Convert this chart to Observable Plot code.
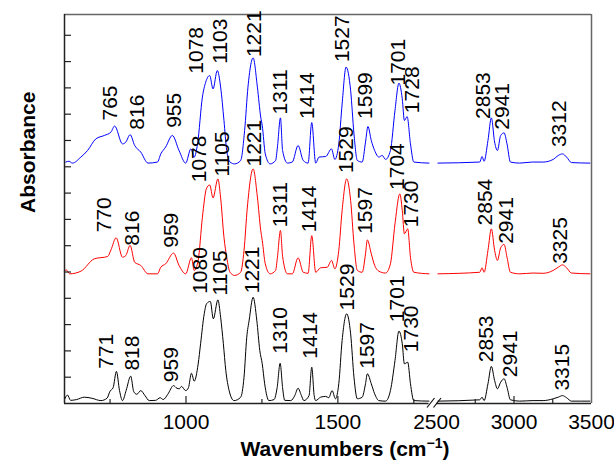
<!DOCTYPE html>
<html>
<head>
<meta charset="utf-8">
<script src="https://cdn.jsdelivr.net/npm/d3@7"></script>
<script src="https://cdn.jsdelivr.net/npm/@observablehq/plot@0.6"></script>
<style>
  html, body { margin: 0; padding: 0; background: #fff; }
  #chart { width: 614px; height: 463px; }
</style>
</head>
<body>
<div id="chart"></div>
<script>
// ---- Data (wavenumber, stacked absorbance) ----
const blackLeft = [[600,0.15],[610,0.32],[620,0.12],[640,0.15],[665,0.24],[690,0.2],[720,0.11],[740,0.2],[750,0.47],[760,0.6],[771,1.22],[781,0.5],[791,0.11],[803,0.5],[818,1.04],[828,0.45],[838,0.35],[851,0.49],[865,0.3],[879,0.11],[900,0.12],[915,0.22],[925,0.15],[940,0.35],[959,0.68],[970,0.58],[978,0.56],[985,0.65],[999,0.49],[1008,0.6],[1018,1.15],[1027,0.85],[1040,1.5],[1048,2.27],[1060,3.41],[1068,3.8],[1080,3.88],[1090,3.22],[1105,3.94],[1114,3.28],[1123,2.27],[1131,1.26],[1142,0.49],[1158,0.11],[1180,0.24],[1191,1.0],[1200,2.52],[1208,3.17],[1221,4.04],[1233,3.17],[1243,2.01],[1251,1.51],[1259,0.75],[1273,0.11],[1290,0.15],[1300,0.6],[1310,1.53],[1318,0.6],[1325,0.12],[1345,0.11],[1358,0.3],[1369,0.58],[1380,0.3],[1388,0.11],[1405,0.3],[1414,1.38],[1422,0.3],[1427,0.11],[1443,0.24],[1460,0.27],[1470,0.22],[1481,0.49],[1492,0.18],[1503,0.75],[1514,2.4],[1529,3.41],[1542,2.65],[1553,1.0],[1564,0.18],[1580,0.24],[1591,0.75],[1597,1.13],[1610,0.75],[1621,0.37],[1635,0.11],[1657,0.09],[1673,0.49],[1688,1.63],[1701,2.75],[1712,2.27],[1719,1.51],[1730,1.57],[1739,0.75],[1750,0.11],[1800,0.09]];
const blackRight = [[2509,0.09],[2779,0.14],[2794,0.24],[2807,0.11],[2832,0.75],[2854,1.41],[2875,0.87],[2893,0.56],[2914,0.81],[2936,0.94],[2955,0.62],[2977,0.14],[3037,0.09],[3123,0.11],[3188,0.11],[3253,0.18],[3285,0.24],[3313,0.3],[3339,0.22],[3371,0.09],[3490,0.09]];

const redLeft = [[600,5.03],[606,5.08],[617,4.93],[654,5.03],[698,5.5],[742,5.59],[753,5.84],[770,6.3],[791,5.56],[802,5.63],[816,6.01],[831,5.37],[851,5.25],[875,4.93],[906,4.93],[917,5.18],[933,5.31],[959,5.72],[977,5.25],[999,4.93],[1018,5.54],[1027,5.06],[1040,5.44],[1054,7.08],[1067,8.16],[1078,8.31],[1089,7.82],[1105,8.54],[1114,7.82],[1125,6.32],[1134,5.56],[1145,4.99],[1160,4.87],[1180,4.99],[1191,5.82],[1202,7.47],[1221,8.92],[1235,7.85],[1246,6.58],[1251,6.2],[1261,5.31],[1277,4.93],[1295,5.06],[1301,5.56],[1311,6.58],[1318,5.6],[1334,4.93],[1350,4.93],[1369,5.54],[1386,4.99],[1402,4.95],[1414,6.38],[1427,4.99],[1443,5.16],[1465,5.18],[1479,5.44],[1490,5.12],[1503,5.82],[1514,7.34],[1529,8.54],[1542,7.72],[1553,6.07],[1564,5.06],[1580,4.99],[1591,5.69],[1597,6.22],[1610,5.69],[1621,5.25],[1635,5.03],[1657,4.96],[1673,5.31],[1688,6.83],[1704,7.97],[1712,7.34],[1719,6.45],[1730,6.64],[1739,5.56],[1750,4.99],[1800,4.93]];
const redRight = [[2509,4.93],[2779,4.99],[2794,5.16],[2807,4.99],[2832,5.82],[2854,6.64],[2875,5.82],[2893,5.44],[2914,5.92],[2936,6.05],[2955,5.56],[2977,4.99],[3037,4.93],[3123,4.96],[3188,4.95],[3253,5.06],[3285,5.18],[3313,5.27],[3339,5.16],[3371,4.96],[3490,4.93]];

const blueLeft = [[604,9.18],[615,9.21],[626,9.14],[654,9.37],[676,9.62],[703,10.06],[731,10.19],[753,10.32],[765,10.55],[791,9.87],[802,9.94],[816,10.22],[831,9.81],[851,9.56],[875,9.14],[906,9.18],[917,9.49],[933,9.75],[955,10.19],[977,9.62],[999,9.14],[1016,9.68],[1027,9.37],[1038,9.87],[1054,11.65],[1065,12.22],[1078,12.47],[1089,11.96],[1103,12.66],[1114,12.03],[1125,10.76],[1134,9.62],[1145,9.18],[1160,9.11],[1180,9.24],[1193,10.38],[1204,12.03],[1221,13.14],[1235,12.03],[1246,10.89],[1251,10.57],[1261,9.49],[1277,9.11],[1295,9.24],[1301,9.75],[1311,10.86],[1318,9.62],[1334,9.14],[1350,9.18],[1369,9.81],[1386,9.24],[1402,9.14],[1414,10.68],[1427,9.14],[1438,9.37],[1460,9.39],[1479,9.68],[1490,9.28],[1503,9.87],[1514,11.39],[1527,12.79],[1542,11.9],[1553,10.25],[1564,9.24],[1580,9.18],[1591,9.94],[1599,10.53],[1610,10.0],[1621,9.62],[1635,9.37],[1646,9.43],[1657,9.28],[1673,9.62],[1688,11.14],[1701,12.18],[1712,11.58],[1719,10.76],[1728,10.91],[1739,9.87],[1750,9.18],[1800,9.14]];
const blueRight = [[2509,9.14],[2779,9.18],[2794,9.39],[2807,9.21],[2832,10.0],[2854,10.86],[2875,9.94],[2893,9.62],[2914,10.19],[2936,10.29],[2955,9.87],[2977,9.18],[3037,9.14],[3118,9.18],[3188,9.18],[3253,9.28],[3285,9.43],[3313,9.49],[3339,9.37],[3371,9.16],[3490,9.14]];

// Peak labels: [text, wavenumber at label, absorbance at label foot]
const blueLabels = [["765",750,10.76],["816",838,10.41],["955",961,10.48],["1078",1034,12.54],["1103",1112,12.92],["1221",1224,13.17],["1311",1309,10.99],["1414",1399,10.82],["1527",1514,12.98],["1599",1589,10.82],["1701",1699,12.09],["1728",1745,11.04],["2853",2802,10.82],["2941",2925,10.41],["3312",3291,9.75]];
const redLabels = [["770",730,6.51],["816",824,6.0],["959",950,5.92],["1078",1043,8.41],["1105",1120,8.63],["1221",1224,9.01],["1311",1311,6.70],["1414",1405,6.51],["1529",1529,8.76],["1597",1589,6.45],["1704",1697,8.12],["1730",1743,6.70],["2854",2817,6.77],["2941",2953,6.07],["3325",3297,5.31]];
const blackLabels = [["771",736,1.32],["818",824,1.25],["959",952,0.81],["1080",1048,4.17],["1105",1114,4.11],["1221",1218,4.19],["1310",1309,1.89],["1414",1410,1.70],["1529",1531,3.54],["1597",1597,1.32],["1701",1697,3.09],["1730",1743,1.95],["2853",2823,1.57],["2941",2979,1.0],["3315",3314,0.49]];

// Axis definitions
const xBreakDomain = [600, 1800, 2500, 3500];
const yMax = 14.79;
const xLabelTicks = [1000, 1500, 2500, 3000, 3500];
const xMajorTicks = [1000, 1500, 3000];
const xMinorTicks = [750, 1250, 1750, 2750, 3250];
const yTicks = d3.range(1, 15);

// ---- Build ----
const series = [
  {name: "blue", color: "#0000ff", parts: [blueLeft, blueRight]},
  {name: "red", color: "#ff0000", parts: [redLeft, redRight]},
  {name: "black", color: "#000000", parts: [blackLeft, blackRight]}
];
const lineMarks = [];
for (const s of series) {
  s.parts.forEach(part => {
    lineMarks.push(Plot.line(part, {x: d => d[0], y: d => d[1], stroke: s.color, strokeWidth: 1, curve: "monotone-x"}));
  });
}
const labelRows = [...blueLabels, ...redLabels, ...blackLabels].map(([t, x, y]) => ({t, x, y}));

const W = 614, H = 463, mL = 64, mR = 23, mT = 14, mB = 60;
const xRange = [mL, 428.5, 436, W - mR];

const breakMark = (index, scales) => {
  const x0 = scales.x(1800), x1 = scales.x(2500), y0 = scales.y(0);
  const g = d3.create("svg:g").attr("stroke", "#111").attr("stroke-width", 1.2).attr("fill", "none");
  g.append("line").attr("x1", x0 - 1.5).attr("y1", y0 + 4.5).attr("x2", x0 + 6).attr("y2", y0 - 5);
  g.append("line").attr("x1", x1 - 2.5).attr("y1", y0 + 4.5).attr("x2", x1 + 5).attr("y2", y0 - 5);
  return g.node();
};

const chart = Plot.plot({
  width: W, height: H,
  marginLeft: mL, marginRight: mR, marginTop: mT, marginBottom: mB,
  style: {fontFamily: "Arial, 'Liberation Sans', sans-serif", background: "#fff", color: "#000", overflow: "visible"},
  x: {type: "linear", domain: xBreakDomain, range: xRange},
  y: {domain: [0, yMax]},
  marks: [
    ...lineMarks,
    // frame
    Plot.ruleY([yMax], {stroke: "#666", strokeWidth: 1.5}),
    Plot.ruleX([3500], {stroke: "#666", strokeWidth: 1.5}),
    Plot.ruleX([600], {stroke: "#222", strokeWidth: 1.5}),
    Plot.ruleY([0], {x1: 600, x2: 1800, stroke: "#222", strokeWidth: 1.5}),
    Plot.ruleY([0], {x1: 2500, x2: 3500, stroke: "#222", strokeWidth: 1.5}),
    breakMark,
    // ticks (inward)
    Plot.axisY(yTicks, {anchor: "left", tickSize: -7, tickFormat: () => "", stroke: "#222", strokeWidth: 1.2, label: null}),
    Plot.axisX(xMajorTicks, {anchor: "bottom", tickSize: -7, tickFormat: () => "", stroke: "#222", strokeWidth: 1.2, label: null}),
    Plot.axisX(xMinorTicks, {anchor: "bottom", tickSize: -4, tickFormat: () => "", stroke: "#222", strokeWidth: 1.2, label: null}),
    Plot.axisX(xLabelTicks, {anchor: "bottom", tickSize: 0, tickPadding: 11, fontSize: 21, label: null, tickFormat: d => String(d)}),
    // peak labels
    Plot.text(labelRows, {x: "x", y: "y", text: "t", rotate: -90, textAnchor: "start", lineAnchor: "middle", fontSize: 21, fill: "#000"}),
    // axis titles
    Plot.text(["Absorbance"], {frameAnchor: "left", dx: -36, dy: 4, rotate: -90, fontSize: 21, fontWeight: "bold", fill: "#000"}),
    Plot.text(["Wavenumbers (cm-1)"], {frameAnchor: "bottom", dx: 17, dy: 46, fontSize: 21, fontWeight: "bold", fill: "#000", lineAnchor: "middle"})
  ]
});

// superscript for the x title
const xt = [...chart.querySelectorAll("text")].find(e => e.textContent.startsWith("Wavenumbers"));
if (xt) {
  xt.textContent = "";
  const ns = "http://www.w3.org/2000/svg";
  const a = document.createElementNS(ns, "tspan"); a.textContent = "Wavenumbers (cm"; xt.appendChild(a);
  const b = document.createElementNS(ns, "tspan"); b.textContent = "\u22121"; b.setAttribute("dy", "-8"); b.setAttribute("font-size", "14"); xt.appendChild(b);
  const c = document.createElementNS(ns, "tspan"); c.textContent = ")"; c.setAttribute("dy", "8"); xt.appendChild(c);
}
document.getElementById("chart").appendChild(chart);
</script>
</body>
</html>
